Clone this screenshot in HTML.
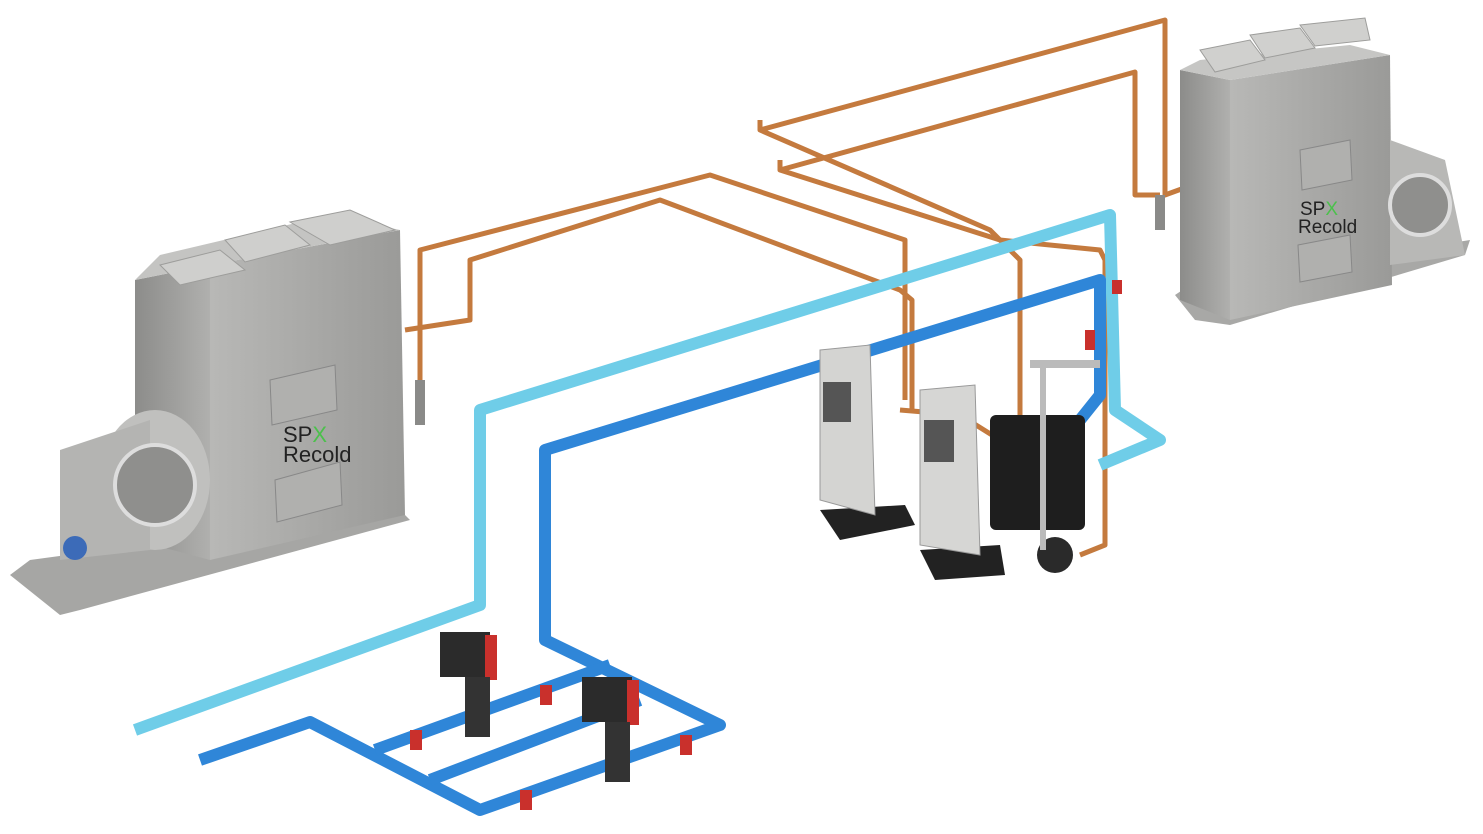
<!DOCTYPE html>
<html><head><meta charset="utf-8"><style>
html,body{margin:0;padding:0;background:#fff;width:1483px;height:834px;overflow:hidden}
svg{display:block}
text{font-family:"Liberation Sans",sans-serif}
</style></head><body>
<svg width="1483" height="834" viewBox="0 0 1483 834" xmlns="http://www.w3.org/2000/svg">
<defs>
<linearGradient id="g1" x1="0" x2="1"><stop offset="0" stop-color="#b8b8b6"/><stop offset="1" stop-color="#9a9a98"/></linearGradient>
<linearGradient id="g2" x1="0" x2="1"><stop offset="0" stop-color="#8c8c8a"/><stop offset="1" stop-color="#b0b0ae"/></linearGradient>
</defs>
<!-- copper pipes -->
<g fill="none" stroke="#c47a3e" stroke-width="5" stroke-linejoin="round">
<polyline points="420,380 420,250 710,175 905,240 905,400"/>
<polyline points="405,330 470,320 470,260 660,200 900,290 912,300 912,410"/>
<polyline points="760,130 1165,20 1165,195 1220,175"/>
<polyline points="780,170 1135,72 1135,195 1160,195"/>
<polyline points="760,120 760,130 990,230 1020,260 1020,450"/>
<polyline points="780,160 780,170 1000,240 1100,250 1105,260 1105,545 1080,555"/>
<polyline points="900,410 960,415 1000,440"/>
</g>
<!-- light blue pipe -->
<polyline points="135,730 480,605 480,410 1110,215 1115,410 1160,440 1100,465" fill="none" stroke="#6fcde8" stroke-width="12" stroke-linejoin="round"/>
<!-- dark blue pipe -->
<g fill="none" stroke="#2f86d8" stroke-width="12" stroke-linejoin="round">
<polyline points="200,760 310,722 480,810 720,725 545,640 545,450 1100,280 1100,395 1080,420"/>
<polyline points="375,750 610,665"/>
<polyline points="430,780 640,700"/>
</g>
<!-- left cooler -->
<polygon points="10,575 30,560 400,510 410,520 80,610 60,615" fill="#a6a6a4"/>
<polygon points="135,280 210,265 210,560 135,540" fill="url(#g2)"/>
<polygon points="210,265 400,230 405,515 210,560" fill="url(#g1)"/>
<polygon points="135,280 210,265 400,230 330,215 160,255" fill="#c4c4c2"/>
<g fill="#cfcfcd" stroke="#9d9d9b">
<polygon points="160,265 220,250 245,270 180,285"/>
<polygon points="225,240 285,225 310,245 245,262"/>
<polygon points="290,222 350,210 395,230 330,245"/>
</g>
<polygon points="270,380 335,365 337,410 272,425" fill="#b0b0ae" stroke="#888"/>
<polygon points="275,480 340,462 342,505 277,522" fill="#b0b0ae" stroke="#888"/>
<ellipse cx="155" cy="480" rx="55" ry="70" fill="#c0c0be"/>
<polygon points="60,450 150,420 150,550 60,560" fill="#b4b4b2"/>
<circle cx="155" cy="485" r="40" fill="#8f8f8d" stroke="#ddd" stroke-width="4"/>
<circle cx="75" cy="548" r="12" fill="#3c6bb8"/>
<rect x="415" y="380" width="10" height="45" fill="#8a8a88"/>
<text x="283" y="442" font-size="22" fill="#222">SP<tspan fill="#4cc04c">X</tspan></text>
<text x="283" y="462" font-size="22" fill="#222">Recold</text>
<!-- right cooler -->
<polygon points="1175,295 1190,285 1470,240 1465,255 1230,325 1195,320" fill="#a8a8a6"/>
<polygon points="1180,70 1230,80 1230,320 1180,300" fill="url(#g2)"/>
<polygon points="1230,80 1390,55 1392,285 1230,320" fill="url(#g1)"/>
<polygon points="1180,70 1230,80 1390,55 1350,45 1200,60" fill="#c6c6c4"/>
<g fill="#d0d0ce" stroke="#9d9d9b">
<polygon points="1200,50 1250,40 1265,60 1215,72"/>
<polygon points="1250,35 1300,28 1315,48 1265,58"/>
<polygon points="1300,25 1365,18 1370,40 1315,46"/>
</g>
<polygon points="1300,150 1350,140 1352,180 1302,190" fill="#b0b0ae" stroke="#888"/>
<polygon points="1298,245 1350,235 1352,272 1300,282" fill="#b0b0ae" stroke="#888"/>
<polygon points="1390,140 1445,160 1465,255 1390,265" fill="#b8b8b6"/>
<circle cx="1420" cy="205" r="30" fill="#8f8f8d" stroke="#ddd" stroke-width="4"/>
<rect x="1155" y="195" width="10" height="35" fill="#8a8a88"/>
<text x="1300" y="215" font-size="19" fill="#222">SP<tspan fill="#4cc04c">X</tspan></text>
<text x="1298" y="233" font-size="19" fill="#222">Recold</text>
<!-- skids -->
<rect x="990" y="415" width="95" height="115" rx="6" fill="#1e1e1e"/>
<polygon points="820,510 905,505 915,525 840,540" fill="#222"/>
<polygon points="820,350 870,345 875,515 820,500" fill="#d4d4d2" stroke="#999"/>
<rect x="823" y="382" width="28" height="40" fill="#555"/>
<polygon points="920,550 1000,545 1005,575 935,580" fill="#222"/>
<polygon points="920,390 975,385 980,555 920,545" fill="#d6d6d4" stroke="#999"/>
<rect x="924" y="420" width="30" height="42" fill="#555"/>
<circle cx="1055" cy="555" r="18" fill="#2a2a2a"/>
<rect x="1030" y="360" width="70" height="8" fill="#bbb"/>
<rect x="1040" y="360" width="6" height="190" fill="#bbb"/>
<!-- pumps -->
<rect x="440" y="632" width="50" height="45" fill="#2b2b2b"/>
<rect x="485" y="635" width="12" height="45" fill="#c9302c"/>
<rect x="465" y="677" width="25" height="60" fill="#333"/>
<rect x="582" y="677" width="50" height="45" fill="#2b2b2b"/>
<rect x="627" y="680" width="12" height="45" fill="#c9302c"/>
<rect x="605" y="722" width="25" height="60" fill="#333"/>
<g fill="#c9302c">
<rect x="410" y="730" width="12" height="20"/><rect x="540" y="685" width="12" height="20"/>
<rect x="520" y="790" width="12" height="20"/><rect x="680" y="735" width="12" height="20"/>
<rect x="1112" y="280" width="10" height="14"/><rect x="1085" y="330" width="10" height="20"/>
</g>
</svg>
</body></html>
